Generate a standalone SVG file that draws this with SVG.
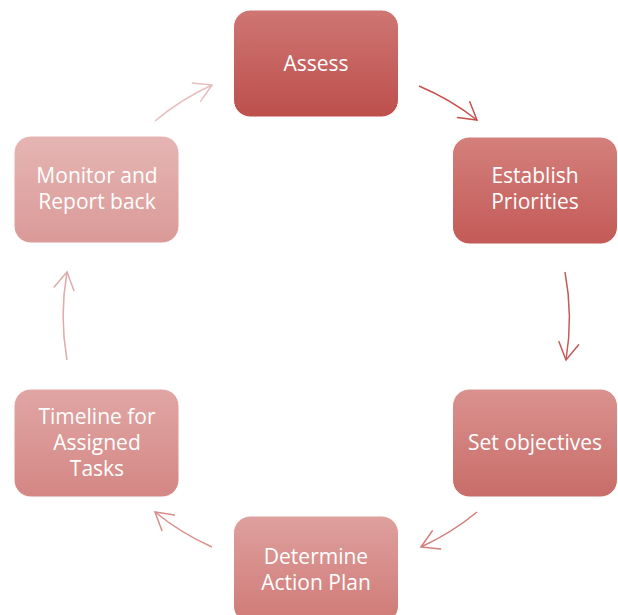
<svg xmlns="http://www.w3.org/2000/svg" width="618" height="615" viewBox="0 0 618 615">
  <style>
    .node rect { stroke: #ffffff; stroke-width: 1; }
    .node text { font-family: "Open Sans", "Noto Sans", "Liberation Sans", sans-serif; font-size: 21px; fill: #ffffff; text-anchor: middle; }
    .conn path { fill: none; stroke-width: 1.5; }
    .mk { fill: none; stroke-width: 1.5; stroke-linecap: round; stroke-linejoin: miter; }
  </style>
  <defs>
    <linearGradient id="g1" x1="0" y1="0" x2="0" y2="1"><stop offset="0" stop-color="#ce7672"/><stop offset="1" stop-color="#bd4f4c"/></linearGradient>
    <linearGradient id="g2" x1="0" y1="0" x2="0" y2="1"><stop offset="0" stop-color="#d4807c"/><stop offset="1" stop-color="#c35a57"/></linearGradient>
    <linearGradient id="g3" x1="0" y1="0" x2="0" y2="1"><stop offset="0" stop-color="#da928f"/><stop offset="1" stop-color="#c86d69"/></linearGradient>
    <linearGradient id="g4" x1="0" y1="0" x2="0" y2="1"><stop offset="0" stop-color="#dea09e"/><stop offset="1" stop-color="#d07a76"/></linearGradient>
    <linearGradient id="g5" x1="0" y1="0" x2="0" y2="1"><stop offset="0" stop-color="#e0a6a4"/><stop offset="1" stop-color="#d48784"/></linearGradient>
    <linearGradient id="g6" x1="0" y1="0" x2="0" y2="1"><stop offset="0" stop-color="#e5b5b3"/><stop offset="1" stop-color="#da9a97"/></linearGradient>
    <marker id="m1" markerUnits="userSpaceOnUse" viewBox="-20 -15 30 30" refX="0" refY="0" markerWidth="30" markerHeight="30" orient="auto"><path class="mk" stroke="#c4514e" d="M-17,-10 L0,0 L-17,10"/></marker>
    <marker id="m2" markerUnits="userSpaceOnUse" viewBox="-20 -15 30 30" refX="0" refY="0" markerWidth="30" markerHeight="30" orient="auto"><path class="mk" stroke="#c65b58" d="M-17,-10 L0,0 L-17,10"/></marker>
    <marker id="m3" markerUnits="userSpaceOnUse" viewBox="-20 -15 30 30" refX="0" refY="0" markerWidth="30" markerHeight="30" orient="auto"><path class="mk" stroke="#d27c78" d="M-17,-10 L0,0 L-17,10"/></marker>
    <marker id="m4" markerUnits="userSpaceOnUse" viewBox="-20 -15 30 30" refX="0" refY="0" markerWidth="30" markerHeight="30" orient="auto"><path class="mk" stroke="#d88e8b" d="M-17,-10 L0,0 L-17,10"/></marker>
    <marker id="m5" markerUnits="userSpaceOnUse" viewBox="-20 -15 30 30" refX="0" refY="0" markerWidth="30" markerHeight="30" orient="auto"><path class="mk" stroke="#e0aaa8" d="M-17,-10 L0,0 L-17,10"/></marker>
    <marker id="m6" markerUnits="userSpaceOnUse" viewBox="-20 -15 30 30" refX="0" refY="0" markerWidth="30" markerHeight="30" orient="auto"><path class="mk" stroke="#e8bebd" d="M-17,-10 L0,0 L-17,10"/></marker>
  </defs>
  <rect width="618" height="615" fill="#ffffff"/>
  <g id="connectors" class="conn">
    <path d="M419,86 A253,253 0 0 1 477,120" stroke="#c4514e" marker-end="url(#m1)"/>
    <path d="M565,272 A253,253 0 0 1 566,360" stroke="#c65b58" marker-end="url(#m2)"/>
    <path d="M477,512 A253,253 0 0 1 421,547" stroke="#d27c78" marker-end="url(#m3)"/>
    <path d="M212,547 A253,253 0 0 1 155,512" stroke="#d88e8b" marker-end="url(#m4)"/>
    <path d="M67,360 A253,253 0 0 1 67,272" stroke="#e0aaa8" marker-end="url(#m5)"/>
    <path d="M155,121 A253,253 0 0 1 212,85" stroke="#e8bebd" marker-end="url(#m6)"/>
  </g>
  <g id="assess" class="node">
    <rect x="233.5" y="10" width="165" height="107" rx="17" fill="url(#g1)"/>
    <text x="316" y="71">Assess</text>
  </g>
  <g id="establish" class="node">
    <rect x="452.5" y="137" width="165" height="107" rx="17" fill="url(#g2)"/>
    <text x="535" y="183">Establish</text>
    <text x="535" y="209">Priorities</text>
  </g>
  <g id="objectives" class="node">
    <rect x="452.5" y="389" width="165" height="108" rx="17" fill="url(#g3)"/>
    <text x="535" y="450">Set objectives</text>
  </g>
  <g id="action" class="node">
    <rect x="233.5" y="516" width="165" height="107" rx="17" fill="url(#g4)"/>
    <text x="316" y="564">Determine</text>
    <text x="316" y="590">Action Plan</text>
  </g>
  <g id="timeline" class="node">
    <rect x="14" y="389" width="165" height="108" rx="17" fill="url(#g5)"/>
    <text x="97" y="424">Timeline for</text>
    <text x="97" y="450">Assigned</text>
    <text x="97" y="476">Tasks</text>
  </g>
  <g id="monitor" class="node">
    <rect x="14" y="136" width="165" height="107" rx="17" fill="url(#g6)"/>
    <text x="97" y="183">Monitor and</text>
    <text x="97" y="209">Report back</text>
  </g>
</svg>
